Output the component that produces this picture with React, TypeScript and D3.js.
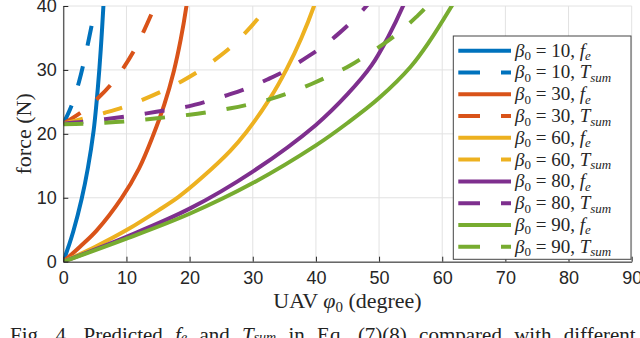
import { useRef, useEffect } from 'react'
import * as d3 from 'd3'

const width = 640
const height = 338
const margin = { top: 6, right: 8.3, bottom: 76.3, left: 63.3 }

const xTicks = [0, 10, 20, 30, 40, 50, 60, 70, 80, 90]
const yTicks = [0, 10, 20, 30, 40]

const betas = [10, 30, 60, 80, 90]
const colors = ['#0072BD', '#D95319', '#EDB120', '#7E2F8E', '#77AC30']

// f_e, [phi0, force]
const fe10 = [[0, 0], [0.8, 2.3], [1.6, 4.8], [2.9, 9.8], [3.9, 14.7], [4.8, 20.5], [5.3, 25.3], [5.7, 30], [6.05, 35], [6.35, 40], [6.5, 42.5]]
const fe30 = [[0, 0], [2.6, 2.3], [5.3, 4.9], [9.2, 9.9], [12, 14.6], [14.2, 19.7], [16, 24.6], [17.5, 29.8], [18.6, 34.8], [19.5, 40], [19.9, 43]]
const fe60 = [[0, 0], [5, 2.3], [10.3, 5.1], [15, 8], [18.2, 10.1], [22, 13.2], [26.4, 17.3], [29, 20.3], [32.7, 25.5], [35.4, 30.2], [37.7, 35], [39.7, 40], [40.5, 42.5]]
const fe80 = [[0, 0], [10, 3.9], [20, 8.3], [30, 14.1], [40, 21.4], [45, 26.2], [48.8, 30.7], [51.4, 35.1], [53.8, 40], [55, 43]]
const fe90 = [[0, 0], [10, 3.6], [20, 7.5], [30, 12.3], [40, 18.2], [45, 21.7], [50, 25.6], [55, 30.5], [58, 34.5], [61.5, 40], [63, 42.5]]

// T_sum
const ts10 = [[0, 21.6], [1.3, 24.4], [2.5, 28.2], [3.5, 32.3], [4.5, 37], [5.1, 40], [5.4, 41.8]]
const ts30 = [[0, 21.6], [3, 23.5], [5.5, 25.6], [7.7, 27.9], [9.5, 30.3], [11.3, 33.2], [12.8, 36.2], [14.2, 39.3], [14.5, 40], [15, 41.5]]
const ts60 = [[0, 21.6], [3.2, 22.4], [6.6, 23.3], [9.6, 24.2], [12.7, 25.4], [15.7, 26.7], [18.7, 28.2], [21.6, 29.9], [24.3, 31.8], [26.8, 33.8], [29.1, 36.1], [31.3, 38.6], [32.4, 40], [33, 41]]
const ts80 = [[0, 21.6], [3.2, 21.9], [6.6, 22.3], [9.7, 22.7], [13.2, 23.2], [16.3, 23.7], [19.8, 24.3], [22.8, 25.1], [26.1, 26.1], [29.3, 27.2], [32.3, 28.5], [35.4, 30], [38.1, 31.7], [41, 33.6], [43.5, 35.6], [45.9, 37.8], [48, 40], [48.8, 41]]
const ts90 = [[0, 21.5], [3.2, 21.6], [6.6, 21.75], [9.7, 21.95], [13.4, 22.3], [16.3, 22.6], [20, 23], [23.2, 23.45], [26.5, 24], [29.6, 24.65], [33, 25.5], [36, 26.5], [39.3, 27.8], [42.2, 29.1], [45.4, 30.7], [48, 32.3], [50.9, 34.2], [53.3, 36], [55.9, 38.3], [57.4, 39.8], [58.2, 41]]

const feSeries = [fe10, fe30, fe60, fe80, fe90]
const tsSeries = [ts10, ts30, ts60, ts80, ts90]

const dash = '20,21'
const lineW = 4
const axisColor = '#262626'

function drawChart(target: SVGSVGElement) {
  const svg = d3.select(target)
  svg.selectAll('*').remove()

  const x = d3.scaleLinear().domain([0, 90]).range([margin.left, width - margin.right])
  const y = d3.scaleLinear().domain([0, 40]).range([height - margin.bottom, margin.top])

  svg.append('defs').append('clipPath').attr('id', 'plot-clip')
    .append('rect')
    .attr('x', x(0)).attr('y', y(40))
    .attr('width', x(90) - x(0)).attr('height', y(0) - y(40))

  // grid
  const grid = svg.append('g').attr('stroke', '#e2e2e2').attr('stroke-width', 1)
  grid.selectAll('.gx').data(xTicks).enter().append('line')
    .attr('x1', (d) => x(d)).attr('x2', (d) => x(d))
    .attr('y1', y(0)).attr('y2', y(40))
  grid.selectAll('.gy').data(yTicks).enter().append('line')
    .attr('x1', x(0)).attr('x2', x(90))
    .attr('y1', (d) => y(d)).attr('y2', (d) => y(d))

  const line = d3.line<number[]>()
    .x((d) => x(d[0]))
    .y((d) => y(d[1]))
    .curve(d3.curveCatmullRom.alpha(0.5))

  const curves = svg.append('g').attr('clip-path', 'url(#plot-clip)')
  betas.forEach((b, i) => {
    curves.append('path')
      .attr('d', line(feSeries[i]))
      .attr('fill', 'none')
      .attr('stroke', colors[i])
      .attr('stroke-width', lineW)
    curves.append('path')
      .attr('d', line(tsSeries[i]))
      .attr('fill', 'none')
      .attr('stroke', colors[i])
      .attr('stroke-width', lineW)
      .attr('stroke-dasharray', dash)
  })

  // axes
  const xAxis = d3.axisBottom(x).tickValues(xTicks).tickSizeInner(-5).tickSizeOuter(0).tickPadding(10)
  const yAxis = d3.axisLeft(y).tickValues(yTicks).tickSizeInner(-5).tickSizeOuter(0).tickPadding(6.5)

  const gx = svg.append('g').attr('transform', `translate(0,${y(0)})`).call(xAxis)
  const gy = svg.append('g').attr('transform', `translate(${x(0)},0)`).call(yAxis)
  ;[gx, gy].forEach((g) => {
    g.select('.domain').attr('stroke', axisColor)
    g.selectAll('.tick line').attr('stroke', axisColor)
    g.selectAll('.tick text')
      .attr('fill', axisColor)
      .attr('font-family', '"Liberation Sans", Arial, sans-serif')
      .attr('font-size', 18)
  })

  // axis labels
  const xl = svg.append('text')
    .attr('x', (x(0) + x(90)) / 2)
    .attr('y', 308)
    .attr('text-anchor', 'middle')
    .attr('font-family', '"Liberation Serif", serif')
    .attr('font-size', 22)
    .attr('fill', axisColor)
  xl.append('tspan').text('UAV ')
  xl.append('tspan').attr('font-style', 'italic').text('φ')
  xl.append('tspan').attr('font-size', 15).attr('dy', 4).text('0')
  xl.append('tspan').attr('dy', -4).text(' (degree)')

  svg.append('text')
    .attr('transform', `translate(31,${(y(0) + y(40)) / 2}) rotate(-90)`)
    .attr('text-anchor', 'middle')
    .attr('font-family', '"Liberation Serif", serif')
    .attr('font-size', 22)
    .attr('fill', axisColor)
    .text('force (N)')

  // legend
  const lg = svg.append('g')
  lg.append('rect')
    .attr('x', 453.3).attr('y', 36)
    .attr('width', 177.7).attr('height', 223.3)
    .attr('fill', 'white').attr('stroke', '#444').attr('stroke-width', 1)

  const rows: { beta: number; color: string; dashed: boolean }[] = []
  betas.forEach((b, i) => {
    rows.push({ beta: b, color: colors[i], dashed: false })
    rows.push({ beta: b, color: colors[i], dashed: true })
  })
  rows.forEach((r, k) => {
    const cy = 50.7 + k * 21.78
    lg.append('line')
      .attr('x1', 458.3).attr('x2', 511)
      .attr('y1', cy).attr('y2', cy)
      .attr('stroke', r.color).attr('stroke-width', lineW)
      .attr('stroke-dasharray', r.dashed ? '21.7,21' : null)
    const t = lg.append('text')
      .attr('x', 515).attr('y', cy + 6)
      .attr('font-family', '"Liberation Serif", serif')
      .attr('font-size', 19)
      .attr('fill', axisColor)
    t.append('tspan').attr('font-style', 'italic').text('β')
    t.append('tspan').attr('font-size', 13).attr('dy', 3.5).text('0')
    t.append('tspan').attr('dy', -3.5).text(` = ${r.beta}, `)
    if (r.dashed) {
      t.append('tspan').attr('font-style', 'italic').text('T')
      t.append('tspan').attr('font-style', 'italic').attr('font-size', 13).attr('dy', 3.5).text('sum')
    } else {
      t.append('tspan').attr('font-style', 'italic').text('f')
      t.append('tspan').attr('font-style', 'italic').attr('font-size', 13).attr('dy', 3.5).text('e')
    }
  })

  // caption (cut off by the frame)
  const cap = svg.append('text')
    .attr('x', 10).attr('y', 342)
    .attr('font-family', '"Liberation Serif", serif')
    .attr('font-size', 21)
    .attr('word-spacing', 7)
    .attr('fill', '#222')
  cap.append('tspan').text('Fig. 4.  Predicted ')
  cap.append('tspan').attr('font-style', 'italic').text('f')
  cap.append('tspan').attr('font-size', 14).attr('font-style', 'italic').text('e')
  cap.append('tspan').text(' and ')
  cap.append('tspan').attr('font-style', 'italic').text('T')
  cap.append('tspan').attr('font-size', 14).attr('font-style', 'italic').text('sum')
  cap.append('tspan').text(' in Eq. (7)(8) compared with different')
}

export default function App() {
  const ref = useRef<SVGSVGElement>(null)

  useEffect(() => {
    if (ref.current) drawChart(ref.current)
  }, [])

  return (
    <svg
      ref={ref}
      width={width}
      height={height}
      style={{ position: 'absolute', left: 0, top: 0, background: 'white' }}
    />
  )
}
